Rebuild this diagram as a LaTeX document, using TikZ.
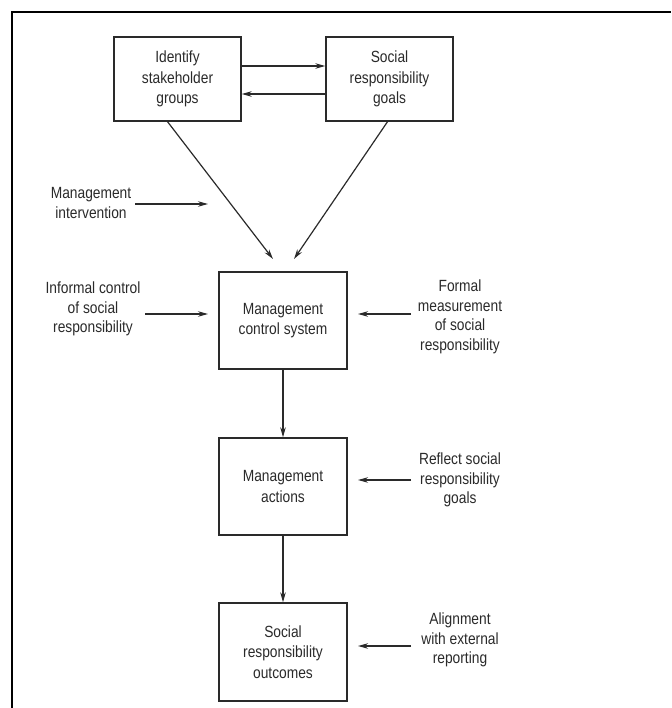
\documentclass[tikz,border=0pt]{standalone}
\usepackage{fontspec}
\setmainfont{Liberation Sans}[FakeStretch=0.85]
\usetikzlibrary{arrows.meta}
\definecolor{ink}{HTML}{2A2A2A}
\begin{document}
\begin{tikzpicture}[x=1pt,y=1pt,
  box/.style={draw=ink, line width=1.4pt, text=ink, align=center, inner sep=0pt,
    font=\fontsize{16.2}{20.5}\selectfont},
  lbl/.style={text=ink, align=center, inner sep=0pt, font=\fontsize{16.2}{19.5}\selectfont},
  arr/.style={draw=ink, line width=1.2pt, -{Stealth[length=10pt,width=5.5pt]}}]
\useasboundingbox (0,0) rectangle (671,-708);
\draw[line width=2.5pt] (12,-708) -- (12,-12) -- (671,-12);
% boxes
\node[box, minimum width=127, minimum height=84] (b1) at (177.5,-79) {Identify\\stakeholder\\groups};
\node[box, minimum width=127, minimum height=84] (b2) at (389.5,-79) {Social\\responsibility\\goals};
\node[box, minimum width=128, minimum height=97] (b3) at (283,-320.5) {Management\\control system};
\node[box, minimum width=128, minimum height=97] (b4) at (283,-486.5) {Management\\actions};
\node[box, minimum width=128, minimum height=98] (b5) at (283,-652) {Social\\responsibility\\outcomes};
% labels
\node[lbl] (mi) at (91,-203) {Management\\intervention};
\node[lbl] (inf) at (93,-309) {Informal control\\of social\\responsibility};
\node[lbl] (fm) at (460,-317) {Formal\\measurement\\of social\\responsibility};
\node[lbl] (rs) at (460,-480) {Reflect social\\responsibility\\goals};
\node[lbl] (al) at (460,-640) {Alignment\\with external\\reporting};
% coordinates
\coordinate (d1s) at (167,-121);
\coordinate (d1e) at (273,-259);
\coordinate (d2s) at (388,-121);
\coordinate (d2e) at (294,-259);
\coordinate (mis) at (135,-204);
\coordinate (mie) at (208,-204);
\coordinate (infs) at (145,-314);
\coordinate (infe) at (208,-314);
\coordinate (fms) at (411,-314);
\coordinate (fme) at (358,-314);
\coordinate (rss) at (411,-480);
\coordinate (rse) at (358,-480);
\coordinate (als) at (411,-646);
\coordinate (ale) at (358,-646);
% connectors
\draw[arr] (b1.east |- 0,-66) -- (b2.west |- 0,-66);
\draw[arr] (b2.west |- 0,-94) -- (b1.east |- 0,-94);
\draw[arr] (d1s) -- (d1e);
\draw[arr] (d2s) -- (d2e);
\draw[arr] (mis) -- (mie);
\draw[arr] (infs) -- (infe);
\draw[arr] (fms) -- (fme);
\draw[arr] (rss) -- (rse);
\draw[arr] (als) -- (ale);
\draw[arr] (b3) -- (b4);
\draw[arr] (b4) -- (b5);
\end{tikzpicture}
\end{document}
